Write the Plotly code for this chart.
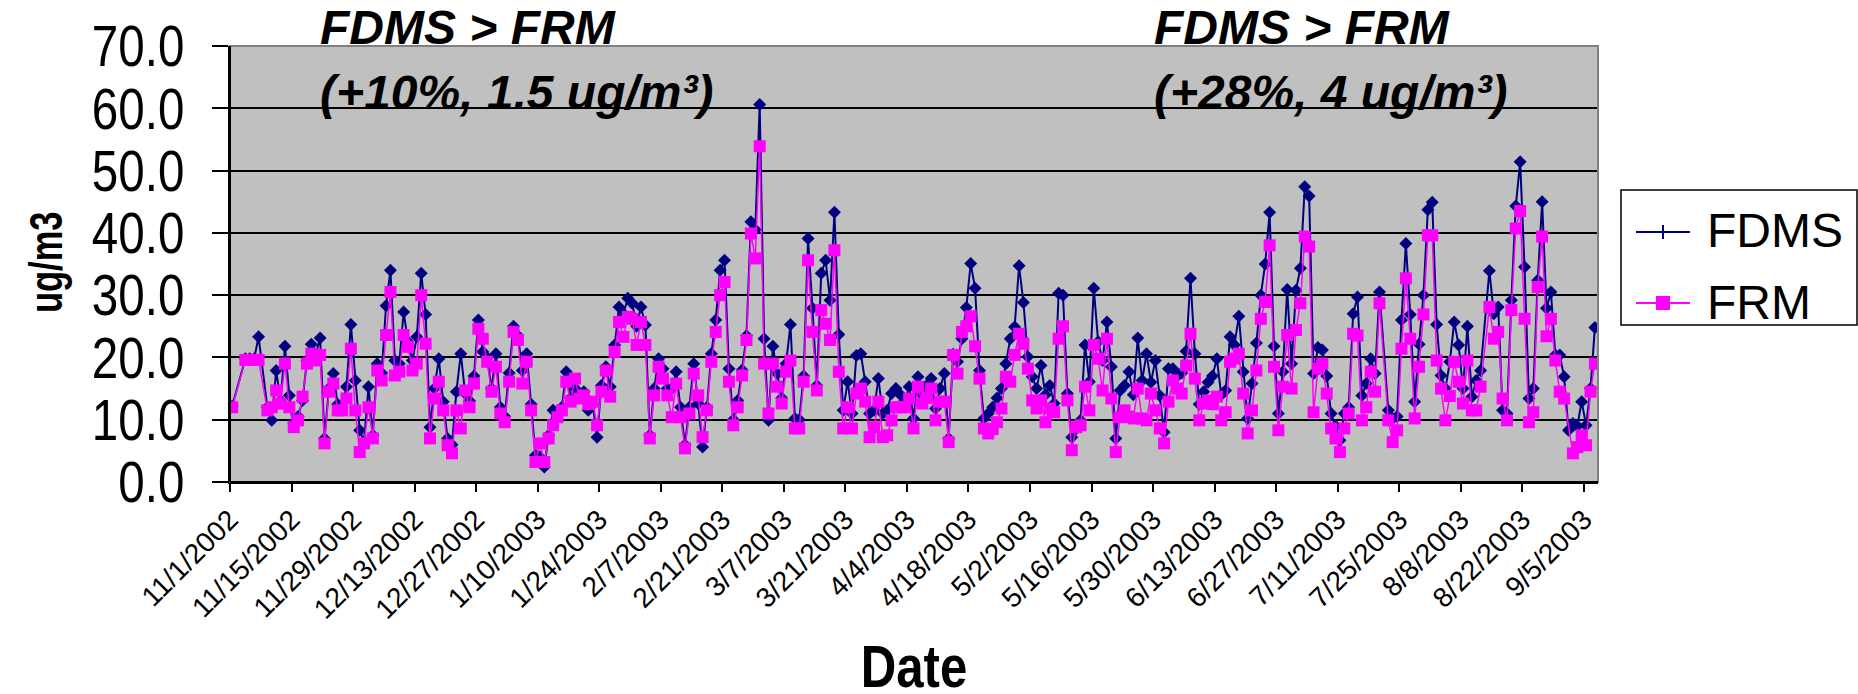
import pandas as pd
import plotly.graph_objects as go

# Daily PM2.5 mass (ug/m3), one value per day starting 11/1/2002; None = no sample
start_date = "2002-11-01"

fdms = [
    12.2, None, None, 19.8, 19.8, 19.8, 23.3, None, 12.0, 9.9,
    17.9, 13.0, 21.8, 13.9, 9.5, 10.5, 13.1, 19.5, 22.1, 20.5,
    23.1, 7.0, 15.0, 17.4, 12.5, 12.0, 15.3, 25.3, 16.3, 8.3,
    6.5, 15.3, 7.5, 19.0, 17.5, 28.3, 34.0, 19.5, 19.0, 27.3,
    22.5, 19.5, 23.3, 33.5, 26.9, 8.8, 15.0, 19.8, 12.9, 7.0,
    6.0, 14.5, 20.6, 14.2, 13.0, 17.0, 26.0, 20.9, 20.0, 15.0,
    20.6, 12.0, 10.5, 17.5, 25.0, 23.5, 17.9, 20.6, 12.5, 4.3,
    4.0, 2.4, 7.5, 11.5, 11.0, 12.0, 17.7, 13.5, 15.0, 14.0,
    14.5, 11.5, 12.5, 7.2, 15.5, 18.5, 15.3, 22.0, 28.1, 27.0,
    29.5, 28.7, 25.0, 28.1, 25.2, 7.5, 15.0, 19.8, 18.2, 15.0,
    15.0, 17.7, 12.0, 6.0, 12.0, 19.0, 12.6, 5.6, 12.0, 20.6,
    26.0, 34.0, 35.6, 18.2, 10.0, 13.1, 18.0, 23.5, 41.8, 40.5,
    60.6, 23.0, 9.9, 21.8, 17.4, 13.5, 19.0, 25.3, 10.2, 10.0,
    17.0, 39.1, 27.9, 15.5, 33.5, 35.6, 29.2, 43.3, 23.7, 11.5,
    16.1, 11.0, 20.3, 20.6, 16.1, 11.0, 11.5, 16.6, 11.0, 11.5,
    14.2, 15.0, 14.0, 13.0, 15.3, 10.2, 16.9, 14.0, 15.5, 16.6,
    11.8, 15.0, 17.4, 7.0, 20.5, 19.3, 23.0, 28.0, 35.1, 31.1,
    17.9, 10.2, 11.0, 12.0, 13.5, 15.0, 19.0, 23.0, 24.9, 34.7,
    28.8, 20.1, 16.9, 15.0, 18.7, 14.0, 15.5, 12.6, 30.3, 30.0,
    14.2, 7.2, 8.6, 9.9, 22.0, 16.1, 31.1, 22.5, 19.5, 25.7,
    18.5, 7.0, 14.7, 15.5, 17.7, 14.0, 23.1, 16.3, 20.6, 16.0,
    19.5, 13.9, 8.0, 18.2, 18.2, 17.0, 17.5, 21.0, 32.7, 20.6,
    12.5, 14.5, 16.0, 17.0, 19.8, 14.0, 14.7, 23.3, 22.0, 26.6,
    17.7, 10.2, 15.8, 22.3, 30.0, 35.0, 43.3, 21.8, 11.0, 17.7,
    30.9, 19.0, 30.8, 34.3, 47.4, 45.9, 17.4, 21.6, 21.2, 17.0,
    11.0, 9.0, 6.7, 11.0, 12.0, 27.0, 29.7, 13.9, 15.8, 19.8,
    17.4, 30.5, None, 11.5, 10.2, 10.5, 26.0, 38.3, 26.9, 12.9,
    22.1, 30.0, 43.7, 44.9, 25.3, 17.1, 15.0, 19.3, 25.7, 22.0,
    15.0, 25.0, 13.7, 16.3, 17.9, None, 33.9, 27.0, 28.1, 11.5,
    11.0, 29.2, 44.3, 51.4, 34.5, 13.4, 15.0, 32.4, 45.0, 27.9,
    30.5, 20.4, 20.4, 16.9, 8.3, 9.4, 9.0, 12.9, 9.1, 15.0,
    24.8,
]

frm = [
    12.0, None, None, 19.6, 19.6, 19.6, 19.6, None, 11.5, 12.0,
    14.7, 12.6, 19.0, 12.0, 8.8, 9.9, 13.7, 19.0, 20.6, 19.5,
    20.4, 6.2, 14.5, 15.8, 11.5, 11.5, 13.4, 21.4, 11.5, 4.8,
    6.2, 12.0, 7.0, 17.9, 16.3, 23.6, 30.5, 17.1, 17.7, 23.6,
    21.7, 17.9, 19.0, 30.0, 22.2, 7.0, 13.4, 16.1, 11.5, 5.9,
    4.6, 11.5, 8.6, 14.7, 12.0, 15.8, 24.6, 23.0, 19.3, 14.5,
    18.5, 11.0, 9.6, 16.1, 24.1, 22.8, 15.8, 19.3, 11.5, 3.2,
    6.2, 3.2, 7.0, 9.1, 10.4, 11.5, 16.1, 12.9, 16.6, 13.4,
    13.9, 12.5, 12.9, 9.1, 14.5, 17.9, 13.7, 20.9, 25.7, 23.3,
    26.5, 26.2, 22.0, 25.7, 22.0, 7.0, 13.9, 18.5, 16.6, 13.9,
    10.4, 15.8, 10.4, 5.4, 11.0, 17.4, 13.9, 7.2, 11.5, 19.3,
    24.1, 30.0, 32.1, 16.1, 9.1, 12.0, 17.1, 22.8, 39.9, 35.9,
    53.9, 19.0, 11.0, 19.0, 15.3, 12.6, 17.7, 19.5, 8.6, 8.6,
    16.1, 35.6, 24.1, 14.7, 27.6, 25.4, 22.8, 37.2, 17.7, 8.6,
    12.0, 8.6, 14.2, 15.0, 12.9, 7.2, 8.8, 12.9, 7.2, 7.5,
    9.9, 12.0, 12.0, 12.0, 13.4, 8.6, 15.3, 12.6, 13.5, 15.0,
    9.9, 12.9, 12.9, 6.4, 20.4, 17.4, 24.1, 25.0, 26.6, 21.8,
    16.6, 8.6, 7.8, 8.5, 9.6, 11.8, 16.9, 16.1, 20.4, 23.8,
    22.2, 18.2, 13.1, 11.8, 13.1, 9.6, 11.8, 11.2, 23.0, 25.0,
    13.1, 5.1, 8.8, 9.1, 15.3, 11.5, 22.0, 19.8, 14.7, 23.0,
    13.4, 4.8, 10.4, 11.5, 10.5, 10.2, 15.0, 10.2, 9.9, 14.2,
    11.5, 8.6, 6.2, 12.9, 16.3, 15.0, 14.2, 18.7, 23.8, 16.6,
    9.9, 12.6, 13.1, 12.5, 13.7, 9.9, 11.2, 19.3, 19.8, 20.6,
    14.2, 7.8, 11.5, 17.9, 26.2, 28.9, 38.0, 18.5, 8.3, 15.3,
    23.6, 15.0, 24.4, 28.7, 39.4, 37.8, 11.2, 18.2, 19.0, 14.2,
    8.6, 7.0, 4.8, 8.6, 11.0, 23.8, 23.5, 9.9, 12.0, 17.7,
    14.5, 28.7, None, 9.9, 6.4, 8.3, 21.4, 32.7, 23.0, 10.2,
    18.5, 26.9, 39.6, 39.6, 19.5, 15.0, 9.9, 13.8, 19.3, 16.1,
    12.6, 19.5, 11.5, 11.5, 15.3, None, 28.1, 23.0, 24.1, 13.4,
    9.9, 27.6, 40.7, 43.5, 26.2, 9.6, 11.2, 31.3, 39.4, 23.4,
    26.2, 19.5, 14.5, 13.4, None, 4.6, 5.6, 7.5, 5.9, 14.5,
    19.0,
]

series_names = ["FDMS", "FRM"]
y_ticks = [0, 10, 20, 30, 40, 50, 60, 70]

# Each sample is centred in its day slot (plotted at noon)
dates = pd.date_range(start_date, periods=len(fdms), freq="D") + pd.Timedelta(hours=12)

NAVY = "#000080"
MAGENTA = "#FF00FF"
SANS = "Liberation Sans, Arial, sans-serif"

W, H = 1858, 694
L, R, T, B = 230, 260, 46, 212
PW, PH = W - L - R, H - T - B


def px(x):
    return (x - L) / PW


def py(y):
    return (H - B - y) / PH


fig = go.Figure()
fig.add_trace(go.Scatter(
    x=dates, y=fdms, name=series_names[0], mode="lines+markers",
    connectgaps=True,
    line=dict(color=NAVY, width=2),
    marker=dict(symbol="diamond", size=10, color=NAVY, line=dict(width=0)),
))
fig.add_trace(go.Scatter(
    x=dates, y=frm, name=series_names[1], mode="lines+markers",
    connectgaps=True,
    line=dict(color=MAGENTA, width=1.5),
    marker=dict(symbol="square", size=12, color=MAGENTA, line=dict(width=0)),
))

fig.update_layout(
    width=W, height=H, autosize=False,
    margin=dict(l=L, r=R, t=T, b=B, pad=0),
    paper_bgcolor="white", plot_bgcolor="#C0C0C0",
    showlegend=False,
    xaxis=dict(
        type="date",
        range=["2002-11-01", "2003-09-08 05:00"],
        tick0="2002-11-01", dtick=14 * 86400000,
        tickformat="%-m/%-d/%Y", tickangle=-45,
        ticks="outside", ticklen=8, tickwidth=1.5, tickcolor="black",
        showline=True, linecolor="black", linewidth=2,
        showgrid=False, zeroline=False,
        tickfont=dict(family=SANS, size=28, color="black"),
    ),
    yaxis=dict(
        range=[0, 70], tickvals=y_ticks, tickformat=".1f",
        ticks="outside", ticklen=16, tickwidth=1.5, tickcolor="black",
        showline=True, linecolor="black", linewidth=2,
        showgrid=True, gridcolor="black", gridwidth=1.5, zeroline=False,
        tickfont=dict(family=SANS, size=58, color="black"),
        ticklabelstandoff=16,
    ),
)

shapes = [
    # plot-area frame (grey top/right edges)
    dict(type="rect", xref="paper", yref="paper", x0=0, x1=1, y0=0, y1=1,
         line=dict(color="#808080", width=2), layer="above"),
    dict(type="line", xref="paper", yref="paper", x0=0, x1=0, y0=0, y1=1,
         line=dict(color="black", width=2), layer="above"),
    dict(type="line", xref="paper", yref="paper", x0=0, x1=1, y0=0, y1=0,
         line=dict(color="black", width=2), layer="above"),
    # legend box
    dict(type="rect", xref="paper", yref="paper",
         x0=px(1621), x1=px(1857), y0=py(325), y1=py(190),
         line=dict(color="black", width=1.5), fillcolor="white", layer="above"),
    # FDMS legend key
    dict(type="line", xref="paper", yref="paper",
         x0=px(1636), x1=px(1690), y0=py(232), y1=py(232),
         line=dict(color=NAVY, width=2), layer="above"),
    dict(type="line", xref="paper", yref="paper",
         x0=px(1663), x1=px(1663), y0=py(225), y1=py(239),
         line=dict(color=NAVY, width=2), layer="above"),
    # FRM legend key
    dict(type="line", xref="paper", yref="paper",
         x0=px(1636), x1=px(1690), y0=py(303), y1=py(303),
         line=dict(color=MAGENTA, width=2), layer="above"),
    dict(type="rect", xref="paper", yref="paper",
         x0=px(1656), x1=px(1670), y0=py(310), y1=py(296),
         line=dict(width=0), fillcolor=MAGENTA, layer="above"),
]

annotations = [
    dict(text="FDMS", x=px(1705), y=py(230), xanchor="left", yanchor="middle"),
    dict(text="FRM", x=px(1705), y=py(302), xanchor="left", yanchor="middle"),
]
for a in annotations:
    a.update(xref="paper", yref="paper", showarrow=False,
             font=dict(family=SANS, size=48, color="black"))

notes = [
    ("<b><i>FDMS &gt; FRM</i></b>", 318, 28),
    ("<b><i>(+10%, 1.5 ug/m³)</i></b>", 318, 92),
    ("<b><i>FDMS &gt; FRM</i></b>", 1152, 28),
    ("<b><i>(+28%, 4 ug/m³)</i></b>", 1152, 92),
]
for text, x, y in notes:
    annotations.append(dict(
        text=text, x=px(x), y=py(y), xref="paper", yref="paper",
        xanchor="left", yanchor="middle", showarrow=False,
        font=dict(family=SANS, size=48, color="black"),
    ))

annotations.append(dict(
    text="<b>ug/m3</b>", x=px(46), y=py(263), xref="paper", yref="paper",
    xanchor="center", yanchor="middle", textangle=-90, showarrow=False,
    font=dict(family=SANS, size=46, color="black"),
))
annotations.append(dict(
    text="<b>Date</b>", x=0.5, y=py(666), xref="paper", yref="paper",
    xanchor="center", yanchor="middle", showarrow=False,
    font=dict(family=SANS, size=60, color="black"),
))

fig.update_layout(shapes=shapes, annotations=annotations)

# Axis numbers and titles use a condensed face: squeeze them horizontally
# about their anchor once the plot has been drawn.
condense_js = """
var gd = document.getElementById('{plot_id}');
function squeeze(el, k, atEnd) {
  var b = el.getBBox();
  var cx = atEnd ? b.x + b.width : b.x + b.width / 2;
  var cy = b.y + b.height / 2;
  var prev = el.getAttribute('transform') || '';
  el.setAttribute('transform', prev + ' translate(' + cx + ',' + cy + ') scale(' + k +
                  ',1) translate(' + (-cx) + ',' + (-cy) + ')');
}
gd.querySelectorAll('.ytick text').forEach(function (t) { squeeze(t, 0.82, true); });
gd.querySelectorAll('.annotation-text').forEach(function (t) {
  var s = t.textContent;
  if (s === 'ug/m3') { squeeze(t, 0.75, false); }
  if (s === 'Date') { squeeze(t, 0.82, false); }
});
"""

fig.write_html("out.html", post_script=condense_js)
